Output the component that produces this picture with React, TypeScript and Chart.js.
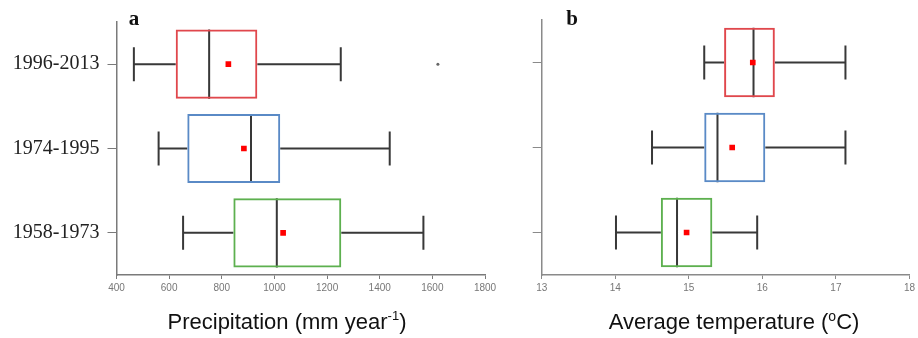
import React, { useEffect, useRef } from "react";
import { Chart, registerables } from "chart.js";

Chart.register(...registerables);

const periods = ["1996-2013", "1974-1995", "1958-1973"];
const boxColors = ["#e0474c", "#5a8ac6", "#5db04f"];

// Precipitation (mm/year)
const precipMin = [466, 560, 653];
const precipQ1 = [625, 669, 844];
const precipMedian = [752, 911, 1009];
const precipQ3 = [935, 1022, 1254];
const precipMax = [1252, 1438, 1566];
const precipMean = [825, 884, 1033];
const precipOutliers = [{ x: 1621, y: "1996-2013" }];
const precipTicks = { min: 400, max: 1800, step: 200 };

// Average temperature (°C)
const tempMin = [15.21, 14.5, 14.01];
const tempQ1 = [15.48, 15.21, 14.62];
const tempMedian = [15.88, 15.39, 14.84];
const tempQ3 = [16.17, 16.04, 15.32];
const tempMax = [17.13, 17.13, 15.93];
const tempMean = [15.87, 15.59, 14.97];
const tempTicks = { min: 13, max: 18, step: 1 };

type Stats = {
  min: number[];
  q1: number[];
  median: number[];
  q3: number[];
  max: number[];
  mean: number[];
  outliers: { x: number; y: string }[];
};

const whiskerPlugin = (stats: Stats) => ({
  id: "whiskers",
  beforeDatasetsDraw(chart: any) {
    const ctx = chart.ctx;
    const xs = chart.scales.x;
    const ys = chart.scales.y;
    const barMeta = chart.getDatasetMeta(2);
    ctx.save();
    ctx.strokeStyle = "#383838";
    ctx.lineWidth = 2;
    periods.forEach((p, i) => {
      const y = ys.getPixelForValue(i);
      const cap = 17;
      const xmin = xs.getPixelForValue(stats.min[i]);
      const xq1 = xs.getPixelForValue(stats.q1[i]);
      const xq3 = xs.getPixelForValue(stats.q3[i]);
      const xmax = xs.getPixelForValue(stats.max[i]);
      const xmed = xs.getPixelForValue(stats.median[i]);
      ctx.beginPath();
      ctx.moveTo(xmin, y);
      ctx.lineTo(xq1, y);
      ctx.moveTo(xq3, y);
      ctx.lineTo(xmax, y);
      ctx.moveTo(xmin, y - cap);
      ctx.lineTo(xmin, y + cap);
      ctx.moveTo(xmax, y - cap);
      ctx.lineTo(xmax, y + cap);
      const bar = barMeta.data[i];
      const half = bar ? bar.height / 2 : 34;
      ctx.moveTo(xmed, y - half);
      ctx.lineTo(xmed, y + half);
      ctx.stroke();
    });
    ctx.restore();
  },
});

function BoxPanel(props: {
  stats: Stats;
  ticks: { min: number; max: number; step: number };
  showLabels: boolean;
  yWidth: number;
  padTop: number;
  padRight: number;
  width: number;
  axisColor: string;
}) {
  const ref = useRef<HTMLCanvasElement | null>(null);
  useEffect(() => {
    const { stats, ticks, showLabels, yWidth, padTop, padRight, axisColor } = props;
    const chart = new Chart(ref.current as HTMLCanvasElement, {
      type: "bar",
      data: {
        labels: periods,
        datasets: [
          {
            type: "scatter",
            data: periods.map((p, i) => ({ x: stats.mean[i], y: p })),
            backgroundColor: "#ff0000",
            borderColor: "#ff0000",
            pointStyle: "rect",
            pointRadius: 4,
            borderWidth: 0,
          } as any,
          {
            type: "scatter",
            data: stats.outliers,
            backgroundColor: "#666666",
            borderColor: "#666666",
            pointRadius: 1.5,
            borderWidth: 0,
          } as any,
          {
            type: "bar",
            data: periods.map((p, i) => [stats.q1[i], stats.q3[i]]),
            backgroundColor: "rgba(255,255,255,0)",
            borderColor: boxColors,
            borderWidth: 2,
            borderSkipped: false,
            categoryPercentage: 1,
            barPercentage: 0.82,
          } as any,
        ],
      },
      options: {
        indexAxis: "y",
        animation: false,
        responsive: false,
        maintainAspectRatio: false,
        layout: { padding: { top: padTop, right: padRight, left: 0, bottom: 0 } },
        plugins: { legend: { display: false }, tooltip: { enabled: false } },
        scales: {
          x: {
            type: "linear",
            min: ticks.min,
            max: ticks.max,
            ticks: {
              stepSize: ticks.step,
              color: "#777777",
              font: { family: "Liberation Sans, Arial, sans-serif", size: 10 },
              padding: 3,
              maxRotation: 0,
              callback: (v: any) => String(v),
            },
            grid: { display: true, drawOnChartArea: false, drawTicks: true, tickLength: 4, color: axisColor },
            border: { display: true, color: axisColor, width: 1.5 },
            afterFit: (s: any) => {
              s.height = 63;
            },
          },
          y: {
            type: "category",
            offset: true,
            ticks: {
              display: true,
              color: "#222222",
              font: { family: "Liberation Serif, Times New Roman, serif", size: 20 },
              padding: 8,
              callback: (v: any, i: number) => (showLabels ? periods[i] : ""),
            },
            grid: { display: true, drawOnChartArea: false, drawTicks: true, tickLength: 9, color: axisColor, offset: false },
            border: { display: true, color: axisColor, width: 1.5 },
            afterFit: (s: any) => {
              s.width = yWidth;
            },
          },
        },
      },
      plugins: [whiskerPlugin(stats)],
    } as any);
    return () => chart.destroy();
  }, []);
  return <canvas ref={ref} width={props.width} height={338} style={{ display: "block" }} />;
}

const titleStyle: React.CSSProperties = {
  position: "absolute",
  fontFamily: "Liberation Sans, Arial, sans-serif",
  fontSize: 22,
  color: "#111",
  whiteSpace: "nowrap",
  transform: "translate(-50%, -50%)",
  lineHeight: 1,
};
const letterStyle: React.CSSProperties = {
  position: "absolute",
  fontFamily: "Liberation Serif, Times New Roman, serif",
  fontWeight: "bold",
  fontSize: 21,
  color: "#111",
  transform: "translate(-50%, -50%)",
  lineHeight: 1,
};

export default function App() {
  useEffect(() => {
    document.body.style.margin = "0";
  }, []);
  const precipStats: Stats = {
    min: precipMin,
    q1: precipQ1,
    median: precipMedian,
    q3: precipQ3,
    max: precipMax,
    mean: precipMean,
    outliers: precipOutliers,
  };
  const tempStats: Stats = {
    min: tempMin,
    q1: tempQ1,
    median: tempMedian,
    q3: tempQ3,
    max: tempMax,
    mean: tempMean,
    outliers: [],
  };
  return (
    <div style={{ position: "relative", width: 918, height: 338, background: "#fff", overflow: "hidden" }}>
      <div style={{ position: "absolute", left: 0, top: 0 }}>
        <BoxPanel
          stats={precipStats}
          ticks={precipTicks}
          showLabels={true}
          yWidth={116.5}
          padTop={22}
          padRight={15}
          width={500}
          axisColor="#7a7a7a"
        />
      </div>
      <div style={{ position: "absolute", left: 500, top: 0 }}>
        <BoxPanel
          stats={tempStats}
          ticks={tempTicks}
          showLabels={false}
          yWidth={41.7}
          padTop={20}
          padRight={6.3}
          width={418}
          axisColor="#8a8a8a"
        />
      </div>
      <div style={{ ...letterStyle, left: 134, top: 18 }}>a</div>
      <div style={{ ...letterStyle, left: 572, top: 18 }}>b</div>
      <div style={{ ...titleStyle, left: 287, top: 321 }}>
        Precipitation (mm year<sup style={{ fontSize: 13 }}>-1</sup>)
      </div>
      <div style={{ ...titleStyle, left: 734, top: 321 }}>
        Average temperature (<sup style={{ fontSize: 14 }}>o</sup>C)
      </div>
    </div>
  );
}
